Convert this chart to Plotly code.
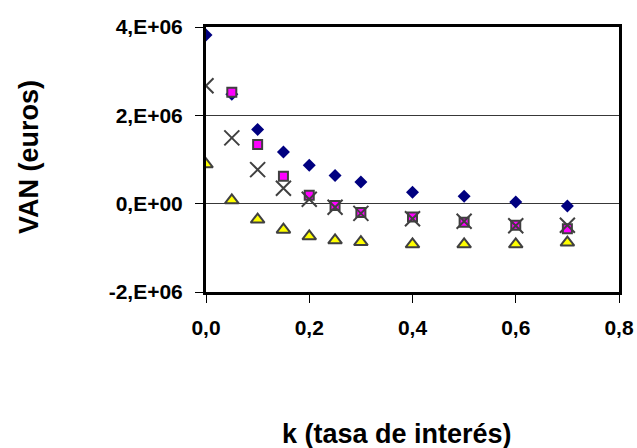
import plotly.graph_objects as go

# Interest rates (k) and net present value series (euros)
k_all = [0.0, 0.05, 0.1, 0.15, 0.2, 0.25, 0.3, 0.4, 0.5, 0.6, 0.7]
k_sq = [0.05, 0.1, 0.15, 0.2, 0.25, 0.3, 0.4, 0.5, 0.6, 0.7]

van_a = [3.82e6, 2.48e6, 1.68e6, 1.17e6, 0.87e6, 0.64e6, 0.49e6, 0.26e6, 0.17e6, 0.04e6, -0.05e6]
van_b = [2.52e6, 1.34e6, 0.62e6, 0.19e6, -0.04e6, -0.20e6, -0.30e6, -0.42e6, -0.49e6, -0.57e6]
van_c = [2.67e6, 1.49e6, 0.77e6, 0.35e6, 0.10e6, -0.08e6, -0.22e6, -0.34e6, -0.40e6, -0.50e6, -0.49e6]
van_d = [0.89e6, 0.075e6, -0.36e6, -0.59e6, -0.74e6, -0.83e6, -0.87e6, -0.92e6, -0.92e6, -0.92e6, -0.88e6]

x_ticks = [0.0, 0.2, 0.4, 0.6, 0.8]
x_labels = ["0,0", "0,2", "0,4", "0,6", "0,8"]
y_ticks = [-2e6, 0, 2e6, 4e6]
y_labels = ["-2,E+06", "0,E+00", "2,E+06", "4,E+06"]

FONT = "Liberation Sans, Arial, sans-serif"
W, H = 637, 448
ML, MR, MT, MB = 206, 18, 27, 156

fig = go.Figure()

fig.add_trace(go.Scatter(
    x=k_all, y=van_a, mode="markers",
    marker=dict(symbol="diamond", size=10, color="#000080", line=dict(width=0)),
))
fig.add_trace(go.Scatter(
    x=k_sq, y=van_b, mode="markers",
    marker=dict(symbol="square", size=9, color="#FF00FF", line=dict(width=2, color="#404040")),
))
fig.add_trace(go.Scatter(
    x=k_all, y=van_c, mode="markers",
    marker=dict(symbol="x-thin", size=15, color="#404040", line=dict(width=2, color="#404040")),
))
fig.add_trace(go.Scatter(
    x=k_all, y=van_d, mode="markers",
    marker=dict(symbol="triangle-up", size=12, color="#FFFF00", line=dict(width=2, color="#404040")),
))

fig.update_layout(
    width=W, height=H,
    margin=dict(l=ML, r=MR, t=MT, b=MB, autoexpand=False),
    paper_bgcolor="white", plot_bgcolor="white",
    showlegend=False,
    font=dict(family=FONT, color="black"),
)

fig.update_xaxes(
    range=[0, 0.8], tickvals=x_ticks, ticktext=x_labels,
    tickfont=dict(family=FONT, size=21, weight="bold"),
    showgrid=False, zeroline=False, automargin=False,
    showline=True, linewidth=3, linecolor="black", mirror=True,
    ticks="outside", ticklen=8, tickwidth=1, tickcolor="black",
    ticklabelstandoff=7,
)
fig.update_yaxes(
    range=[-2e6, 4e6], tickvals=y_ticks, ticktext=y_labels,
    tickfont=dict(family=FONT, size=21, weight="bold"),
    showgrid=True, gridcolor="#383838", gridwidth=1,
    zeroline=True, zerolinecolor="#383838", zerolinewidth=1,
    automargin=False,
    showline=True, linewidth=3, linecolor="black", mirror=True,
    ticks="outside", ticklen=8, tickwidth=1, tickcolor="black",
    ticklabelstandoff=8,
)

# Axis titles placed in paper pixels
fig.add_annotation(
    text="k (tasa de interés)", xref="paper", yref="paper",
    x=(397 - ML) / (W - ML - MR), y=-(434 - (H - MB)) / (H - MT - MB),
    xanchor="center", yanchor="middle", showarrow=False,
    font=dict(family=FONT, size=27, weight="bold", color="black"),
)
fig.add_annotation(
    text="VAN (euros)", xref="paper", yref="paper",
    x=-(ML - 29) / (W - ML - MR), y=((H - MB) - 157) / (H - MT - MB),
    xanchor="center", yanchor="middle", showarrow=False, textangle=-90,
    font=dict(family=FONT, size=27, weight="bold", color="black"),
)

fig.write_html("out.html")
